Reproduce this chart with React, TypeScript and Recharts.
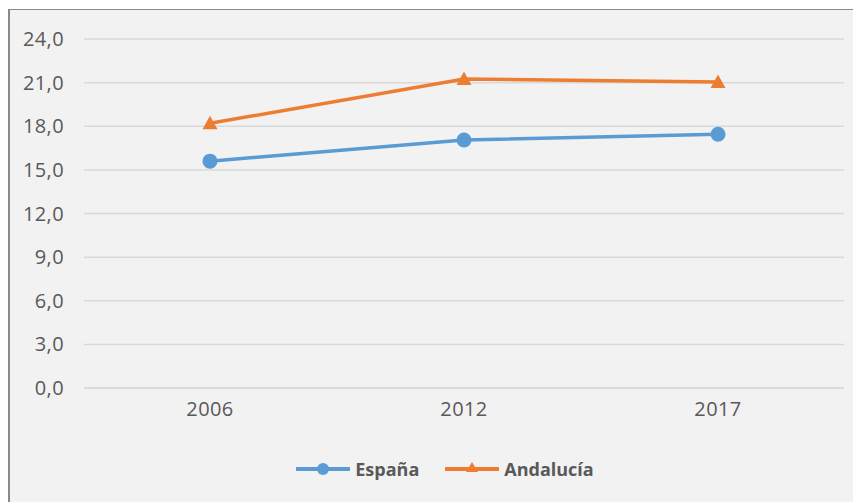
import { LineChart, Line, XAxis, YAxis, CartesianGrid, Legend } from 'recharts';

const years = ['2006', '2012', '2017'];
const espana = [15.6, 17.05, 17.45];
const andalucia = [18.2, 21.25, 21.05];
const yTicks = [0, 3, 6, 9, 12, 15, 18, 21, 24];

const data = years.map((y, i) => ({ year: y, espana: espana[i], andalucia: andalucia[i] }));

const BLUE = '#5b9bd5';
const ORANGE = '#ed7d31';
const TEXT = '#595959';
const FONT = '"Open Sans", sans-serif';

const Triangle = (props: any) => {
  const { cx, cy, key } = props;
  if (cx == null || cy == null) return null;
  return <polygon key={key} points={`${cx},${cy - 7.5} ${cx + 7.5},${cy + 6} ${cx - 7.5},${cy + 6}`} fill={ORANGE} />;
};

const LegendContent = () => (
  <div style={{ display: 'flex', justifyContent: 'center', gap: 26, fontFamily: FONT, fontWeight: 700, fontSize: 18, color: TEXT, paddingLeft: 19 }}>
    <span style={{ display: 'flex', alignItems: 'center' }}>
      <svg width={54} height={16} style={{ marginRight: 5 }}>
        <line x1={1} y1={8} x2={53} y2={8} stroke={BLUE} strokeWidth={4} strokeLinecap="round" />
        <circle cx={27} cy={8} r={6} fill={BLUE} />
      </svg>
      España
    </span>
    <span style={{ display: 'flex', alignItems: 'center' }}>
      <svg width={54} height={16} style={{ marginRight: 5 }}>
        <line x1={1} y1={8} x2={53} y2={8} stroke={ORANGE} strokeWidth={4} strokeLinecap="round" />
        <polygon points="27,1 33,11 21,11" fill={ORANGE} />
      </svg>
      Andalucía
    </span>
  </div>
);

const tickStyle = { fill: TEXT, fontSize: 20, fontFamily: FONT, letterSpacing: 0.4 };

export default function App() {
  return (
    <div
      style={{
        width: 853,
        height: 493,
        marginTop: 1,
        background: '#f2f2f2',
        borderTop: '1px solid #8a8a8a',
        borderLeft: '2px solid #8a8a8a',
        boxSizing: 'border-box',
      }}
    >
      <LineChart width={851} height={492} data={data} margin={{ top: 29, right: 17, left: 0, bottom: 84 }}>
        <CartesianGrid vertical={false} stroke="#d9d9d9" strokeWidth={1.5} />
        <XAxis
          dataKey="year"
          padding={{ left: 126, right: 126 }}
          axisLine={{ stroke: '#d9d9d9', strokeWidth: 1.5 }}
          tickLine={false}
          height={30}
          tick={tickStyle}
          dy={6}
        />
        <YAxis
          domain={[0, 24]}
          ticks={yTicks}
          width={74}
          axisLine={false}
          tickLine={false}
          tickFormatter={(v: number) => v.toFixed(1).replace('.', ',')}
          tick={tickStyle}
          dx={-12}
        />
        <Legend verticalAlign="middle" wrapperStyle={{ top: 447, left: 0, width: 851 }} content={LegendContent} />
        <Line
          dataKey="espana"
          name="España"
          stroke={BLUE}
          strokeWidth={3.5}
          dot={{ r: 7.5, fill: BLUE, stroke: 'none' }}
          activeDot={false}
          isAnimationActive={false}
        />
        <Line
          dataKey="andalucia"
          name="Andalucía"
          stroke={ORANGE}
          strokeWidth={3.5}
          dot={Triangle}
          activeDot={false}
          isAnimationActive={false}
        />
      </LineChart>
    </div>
  );
}
